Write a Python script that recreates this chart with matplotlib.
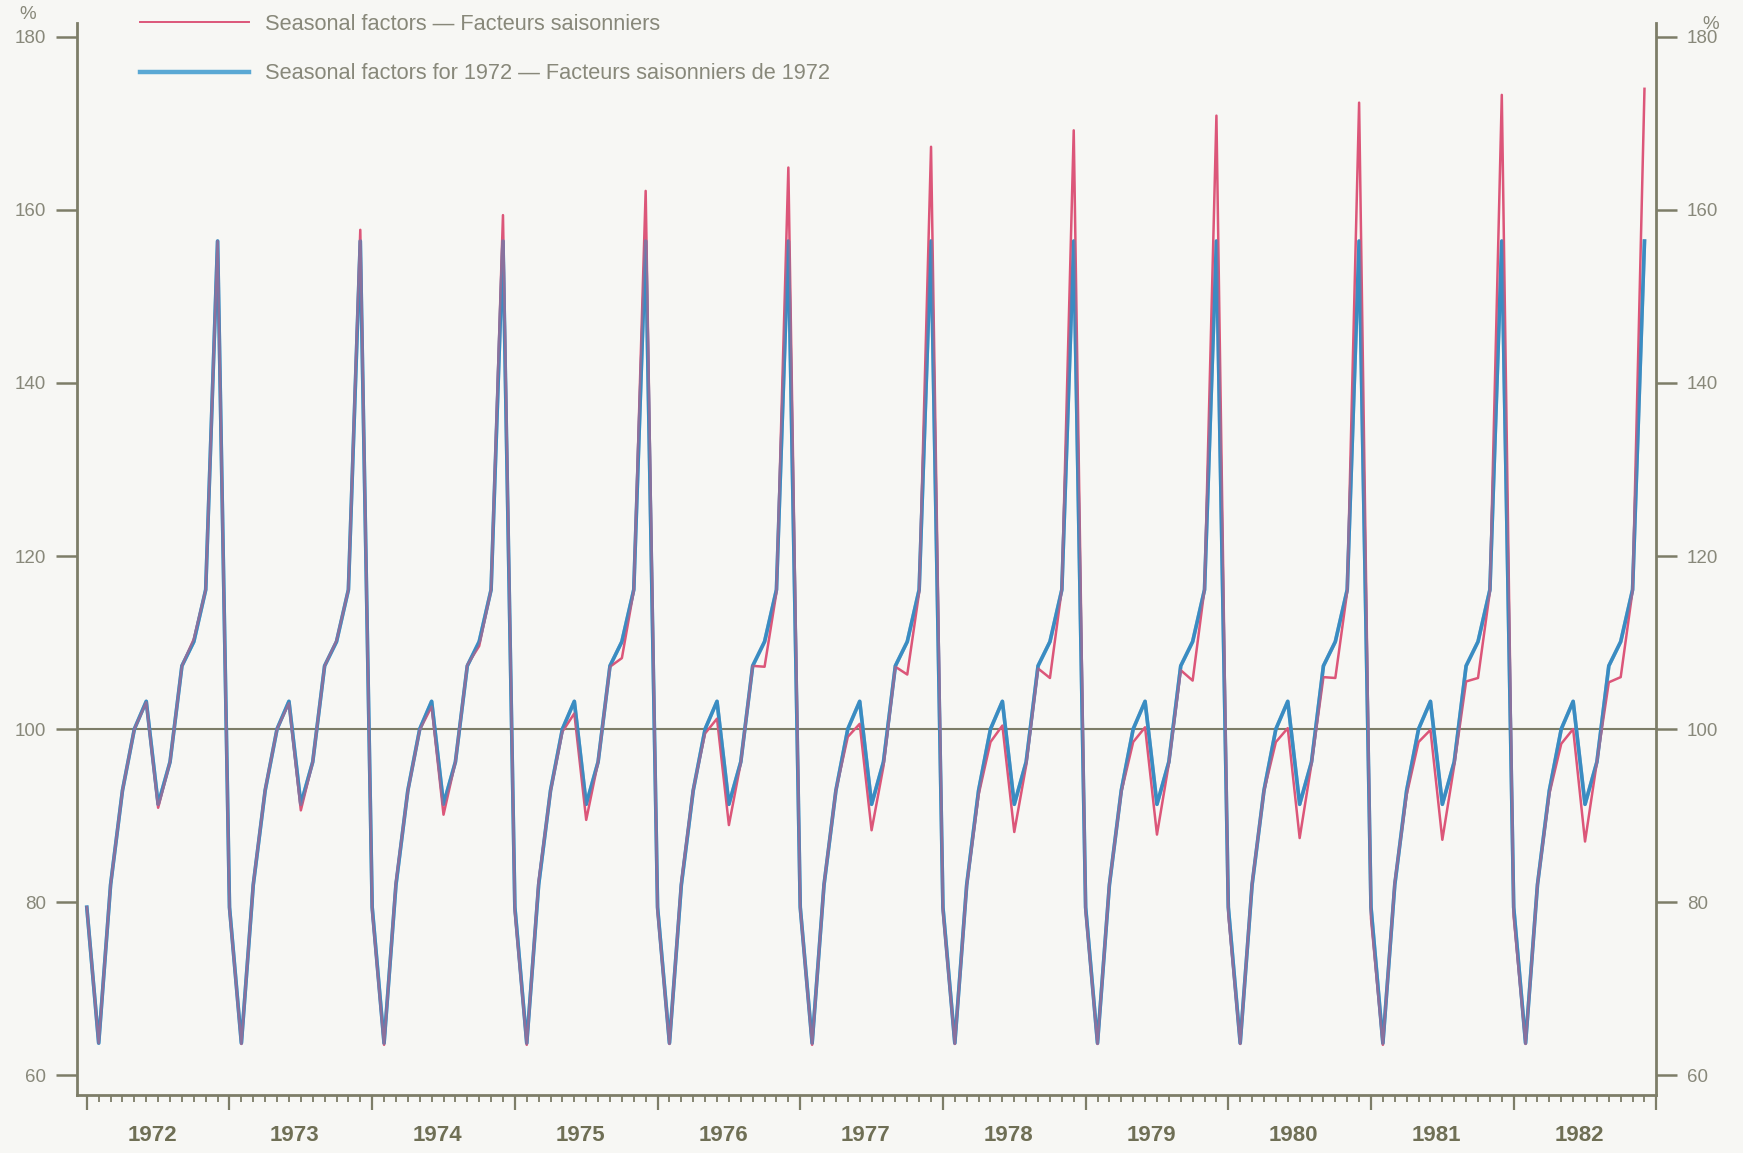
import numpy as np
import matplotlib
matplotlib.use("Agg")
import matplotlib.pyplot as plt
from matplotlib.ticker import FixedLocator, NullFormatter

plt.rcParams['font.family'] = ['Liberation Sans', 'DejaVu Sans']

# ---------------- data ----------------
years = list(range(1972, 1983))
y_ticks = [60, 80, 100, 120, 140, 160, 180]

# Seasonal factors for 1972 (Jan..Dec) - applied unchanged to every year
factors_1972 = [79.4, 63.7, 82.0, 92.9, 100.0, 103.2, 91.3, 96.2, 107.3, 110.1, 116.1, 156.4]

# Evolving seasonal factors, one list per year (Jan..Dec)
seasonal_1972 = [79.4, 63.7, 82.0, 92.9, 100.0, 103.1, 90.9, 96.2, 107.3, 110.4, 116.1, 156.4]
seasonal_1973 = [79.2, 63.6, 82.1, 93.0, 100.0, 103.0, 90.6, 96.2, 107.3, 110.2, 116.1, 157.7]
seasonal_1974 = [79.0, 63.5, 82.3, 92.8, 99.9, 102.6, 90.1, 96.2, 107.4, 109.6, 116.1, 159.4]
seasonal_1975 = [78.9, 63.5, 82.4, 92.8, 99.7, 101.8, 89.5, 96.2, 107.2, 108.2, 116.0, 162.2]
seasonal_1976 = [79.0, 63.6, 82.3, 93.0, 99.5, 101.2, 88.9, 96.1, 107.3, 107.2, 115.8, 164.9]
seasonal_1977 = [79.3, 63.5, 82.1, 92.9, 99.1, 100.6, 88.3, 95.7, 107.2, 106.3, 115.8, 167.3]
seasonal_1978 = [79.0, 63.6, 81.9, 92.4, 98.5, 100.4, 88.1, 95.8, 107.0, 105.9, 116.2, 169.2]
seasonal_1979 = [79.0, 63.6, 82.1, 92.7, 98.5, 100.2, 87.8, 96.0, 106.8, 105.6, 116.2, 170.9]
seasonal_1980 = [78.6, 63.6, 82.2, 92.8, 98.5, 100.1, 87.4, 96.0, 106.0, 105.9, 115.9, 172.4]
seasonal_1981 = [78.1, 63.5, 82.3, 92.4, 98.5, 99.9, 87.2, 95.8, 105.5, 105.9, 115.9, 173.3]
seasonal_1982 = [78.3, 63.6, 82.0, 92.5, 98.3, 100.0, 87.0, 96.2, 105.4, 106.0, 116.0, 174.0]

label_seasonal = "Seasonal factors \u2014 Facteurs saisonniers"
label_1972 = "Seasonal factors for 1972 \u2014 Facteurs saisonniers de 1972"

# ---------------- build series ----------------
seasonal = np.concatenate([seasonal_1972, seasonal_1973, seasonal_1974, seasonal_1975,
                           seasonal_1976, seasonal_1977, seasonal_1978, seasonal_1979,
                           seasonal_1980, seasonal_1981, seasonal_1982])
fixed = np.tile(factors_1972, len(years))
n = len(seasonal)
x = np.arange(n)

# ---------------- style ----------------
bg = '#f7f7f4'
axis_color = '#7d7d68'
label_color = '#88887a'
year_color = '#6f6f55'
pink = '#dc5679'
blue = '#3a8cc2'

fig = plt.figure(figsize=(17.43, 11.53), dpi=100, facecolor=bg)
ax = fig.add_axes([0.0440, 0.0503, 0.9063, 0.9297])
ax.set_facecolor(bg)

ax.axhline(100, color=axis_color, lw=1.5, zorder=2)

l_blue, = ax.plot(x, fixed, color=blue, lw=2.6, zorder=3, label=label_1972)
l_pink, = ax.plot(x, seasonal, color=pink, lw=1.8, zorder=4, label=label_seasonal)
ax.plot(x, fixed, color=blue, lw=2.6, alpha=0.5, zorder=5)

ax.set_xlim(-0.85, n)
ax.set_ylim(57.7, 181.6)

for side in ['left', 'right', 'bottom']:
    ax.spines[side].set_color(axis_color)
    ax.spines[side].set_linewidth(2.0)
ax.spines['top'].set_visible(False)

# y axis: ticks both sides
ax.yaxis.set_major_locator(FixedLocator(y_ticks))
ax.set_yticklabels([str(v) for v in y_ticks])
ax.tick_params(axis='y', which='major', direction='out', length=15, width=1.8,
               color=axis_color, labelsize=13.5, labelcolor=label_color,
               left=True, right=True, labelleft=True, labelright=True, pad=5)
ax.tick_params(axis='y', which='major', labelright=True, pad=7)

# x axis: year boundaries (long) and months (short)
ax.xaxis.set_major_locator(FixedLocator(np.arange(0, n + 1, 12)))
ax.xaxis.set_minor_locator(FixedLocator(x))
ax.xaxis.set_major_formatter(NullFormatter())
ax.tick_params(axis='x', which='major', direction='out', length=11, width=1.6, color=axis_color)
ax.tick_params(axis='x', which='minor', direction='out', length=5, width=1.3, color=axis_color)

for i, yr in enumerate(years):
    ax.text(i * 12 + 5.5, -0.038, str(yr), transform=ax.get_xaxis_transform(),
            ha='center', va='center', fontsize=16, fontweight='bold', color=year_color,
            family=['Liberation Sans Narrow', 'Liberation Sans', 'DejaVu Sans'])

ax.text(-0.031, 1.008, '%', transform=ax.transAxes, ha='center', va='center',
        fontsize=13.5, color=label_color)
ax.text(1.0345, 0.999, '%', transform=ax.transAxes, ha='center', va='center',
        fontsize=13.5, color=label_color)

leg = fig.legend([l_pink, l_blue], [label_seasonal, label_1972], loc='upper left',
                 bbox_to_anchor=(140 / 1743, 1 - 14 / 1153), frameon=False,
                 fontsize=15.7, handlelength=5.0, handletextpad=0.72, labelspacing=1.3,
                 borderpad=0, borderaxespad=0)
for t in leg.get_texts():
    t.set_color(label_color)
leg_lines = leg.get_lines()
leg_lines[0].set_linewidth(1.4)
leg_lines[0].set_color(pink)
leg_lines[1].set_linewidth(3.2)
leg_lines[1].set_color('#5aa8d4')

fig.savefig('out.png', dpi=100, facecolor=bg)
